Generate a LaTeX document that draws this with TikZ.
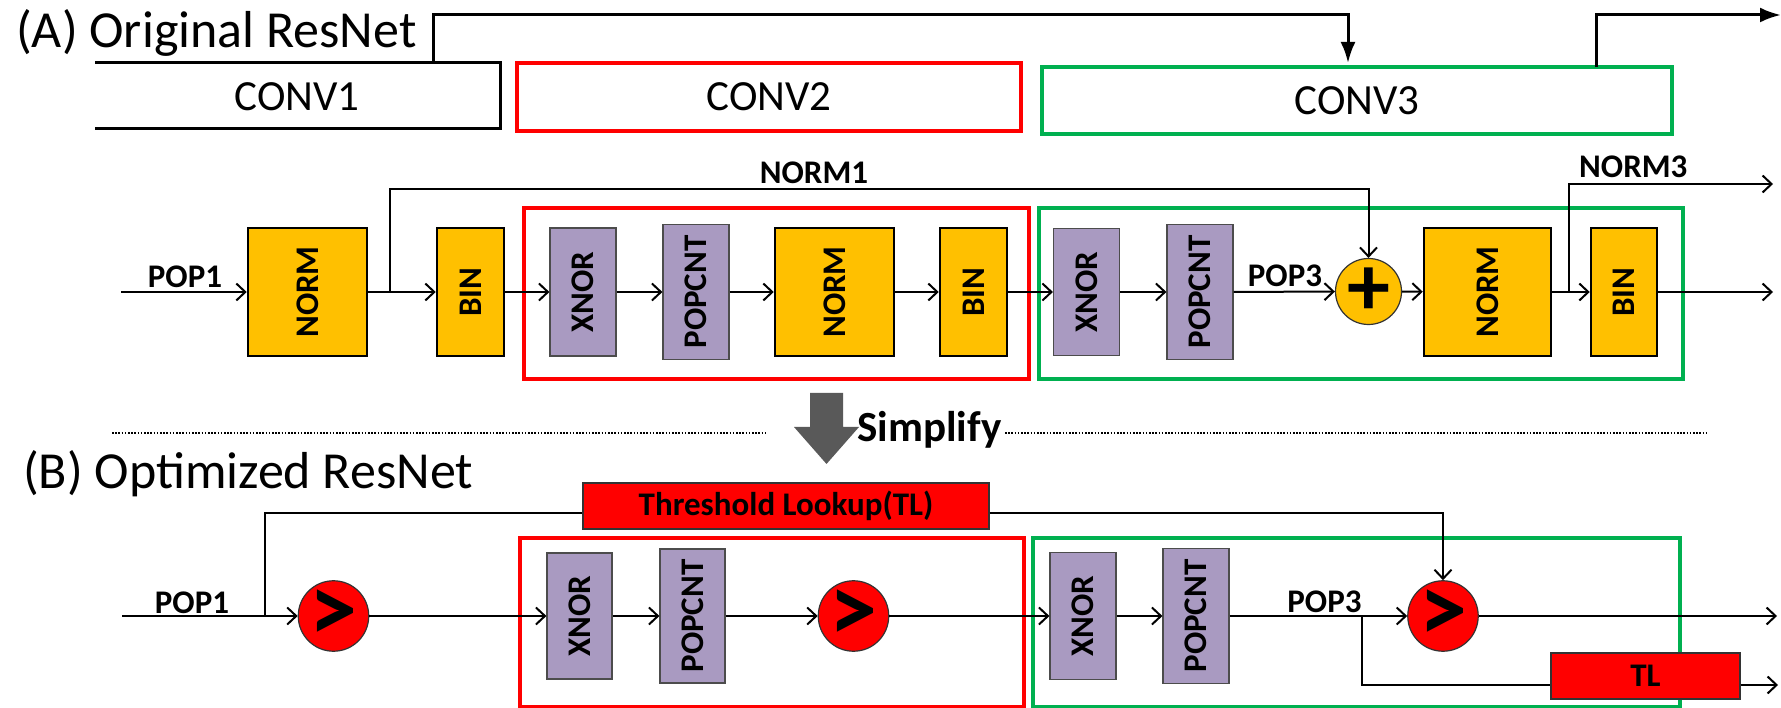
\documentclass[tikz,border=0pt]{standalone}
\usepackage{fontspec}
\setmainfont{Carlito}
\usetikzlibrary{arrows.meta,calc}
\definecolor{yel}{HTML}{FFC000}
\definecolor{pur}{HTML}{A99AC1}
\definecolor{myred}{HTML}{FF0000}
\definecolor{mygreen}{HTML}{00B050}
\definecolor{darrow}{HTML}{595959}
\newcommand\lblfont{\fontsize{33}{33}\selectfont\bfseries}
\newcommand\vt[1]{\rotatebox{90}{\lblfont #1}}
\begin{document}
\begin{tikzpicture}[x=1pt,y=-1pt,
  wire/.style={line width=2pt},
  conn/.style={line width=2pt,-{Straight Barb[length=9pt,width=17pt,line width=2pt]}},
  bigwire/.style={line width=3pt,-{Latex[length=21pt,width=15pt]}},
  ybox/.style={draw=black,line width=2.5pt,fill=yel,inner sep=0pt},
  pbox/.style={draw=black!70,line width=1.2pt,fill=pur,inner sep=0pt},
  sumc/.style={circle,draw=black!80,line width=1.2pt,fill=yel,minimum size=66pt,inner sep=0pt},
  cmpc/.style={circle,draw=black!80,line width=1.2pt,fill=myred,minimum size=66pt,inner sep=0pt},
  tlbox/.style={draw=black!80,line width=1.2pt,fill=myred,inner sep=0pt,font=\lblfont},
  convbox/.style={line width=3.5pt,inner sep=0pt,font=\fontsize{43}{43}\selectfont},
  lbl/.style={inner sep=0pt,font=\lblfont},
  title/.style={inner sep=0pt,font=\fontsize{52}{52}\selectfont},
  redframe/.style={draw=myred,line width=3.5pt},
  greenframe/.style={draw=mygreen,line width=3.5pt}
]
\useasboundingbox (0,0) rectangle (1781,708);

% ---------- (A) top row ----------
\node[title,anchor=base west] (ta) at (16,48) {(A) Original ResNet};
\draw[line width=3pt] (95,63) -- (500,63) -- (500,129) -- (95,129);
\node[inner sep=0pt,font=\fontsize{43}{43}\selectfont] (conv1) at (297,97) {CONV1};
\node[convbox,draw=myred,minimum width=504pt,minimum height=68pt] (conv2) at (769,97) {CONV2};
\node[convbox,draw=mygreen,minimum width=630pt,minimum height=67pt] (conv3) at (1357,100.5) {CONV3};
\coordinate (c1top) at (433,63);
\coordinate (c3in) at (1348,63);
\coordinate (c3out) at (1596,67);
\coordinate (topout) at (1781,15);
\draw[bigwire] (c1top) -- (433,15) -| (c3in);
\draw[bigwire] (c3out) |- (topout);

% ---------- (A) detail row ----------
\draw[redframe] (524,208) rectangle (1029,379);
\draw[greenframe] (1039,208) rectangle (1683,379);

\node[ybox,minimum width=119pt,minimum height=128pt] (n1) at (307.5,292) {\vt{NORM}};
\node[ybox,minimum width=67pt,minimum height=128pt] (b1) at (470.5,292) {\vt{BIN}};
\node[pbox,minimum width=66pt,minimum height=128pt] (x1) at (583,292) {\vt{XNOR}};
\node[pbox,minimum width=66pt,minimum height=135pt] (p1) at (696,292) {\vt{POPCNT}};
\node[ybox,minimum width=119pt,minimum height=128pt] (n2) at (834.5,292) {\vt{NORM}};
\node[ybox,minimum width=67pt,minimum height=128pt] (b2) at (973.5,292) {\vt{BIN}};
\node[pbox,minimum width=66pt,minimum height=127pt] (x2) at (1086.5,292) {\vt{XNOR}};
\node[pbox,minimum width=66pt,minimum height=135pt] (p2) at (1200,292) {\vt{POPCNT}};
\node[sumc] (pl) at (1368.5,291.5) {\fontsize{86}{86}\selectfont\bfseries +};
\node[ybox,minimum width=127pt,minimum height=128pt] (n3) at (1487.5,292) {\vt{NORM}};
\node[ybox,minimum width=66pt,minimum height=128pt] (b3) at (1624,292) {\vt{BIN}};

\coordinate (inA) at (121,292);
\coordinate (brA1) at (390,292);
\coordinate (brA3) at (1569,292);
\coordinate (outA) at (1773,292);
\coordinate (outA3) at (1773,184);

\draw[conn] (inA) -- (n1);
\draw[wire] (n1) -- (brA1);
\draw[conn] (brA1) -- (b1);
\draw[conn] (b1) -- (x1);
\draw[conn] (x1) -- (p1);
\draw[conn] (p1) -- (n2);
\draw[conn] (n2) -- (b2);
\draw[conn] (b2) -- (x2);
\draw[conn] (x2) -- (p2);
\draw[conn] (p2) -- (pl);
\draw[conn] (pl) -- (n3);
\draw[wire] (n3) -- (brA3);
\draw[conn] (brA3) -- (b3);
\draw[conn] (b3) -- (outA);
\draw[conn] (brA1) -- (390,189) -| (pl.north);
\draw[conn] (brA3) -- (1569,184) -- (outA3);

\node[lbl,anchor=base] at (185,288) {POP1};
\node[lbl,anchor=base] at (814,184) {NORM1};
\node[lbl,anchor=base] at (1285,287) {POP3};
\node[lbl,anchor=base west] at (1579,178) {NORM3};

% ---------- separator ----------
\draw[line width=1.6pt,dash pattern=on 1.6pt off 1.6pt] (112,433) -- (767,433);
\draw[line width=1.6pt,dash pattern=on 1.6pt off 1.6pt] (1005,433) -- (1707,433);
\fill[darrow] (810,393) -- (843,393) -- (843,427) -- (859,427) -- (826.5,464) -- (794,427) -- (810,427) -- cycle;
\node[inner sep=0pt,anchor=base west,font=\fontsize{43}{43}\selectfont\bfseries] (simp) at (857,442) {Simplify};

% ---------- (B) ----------
\node[title,anchor=base west] (tb) at (23,488) {(B) Optimized ResNet};
\draw[redframe] (520,538) rectangle (1024,707);
\draw[greenframe] (1033,538) rectangle (1680,707);

\node[tlbox,minimum width=406pt,minimum height=46pt] (tl) at (786,506) {Threshold Lookup(TL)};
\node[tlbox,minimum width=189pt,minimum height=46pt] (tls) at (1645.5,676) {TL};

\node[cmpc] (c1) at (333.5,616) {\fontsize{96}{96}\selectfont\bfseries >};
\node[pbox,minimum width=65pt,minimum height=126pt] (x3) at (579.5,616) {\vt{XNOR}};
\node[pbox,minimum width=65pt,minimum height=134pt] (p3) at (692.5,616) {\vt{POPCNT}};
\node[cmpc] (c2) at (853.5,616) {\fontsize{96}{96}\selectfont\bfseries >};
\node[pbox,minimum width=66pt,minimum height=127pt] (x4) at (1083,616) {\vt{XNOR}};
\node[pbox,minimum width=66pt,minimum height=135pt] (p4) at (1196,616) {\vt{POPCNT}};
\node[cmpc] (c3) at (1443,616) {\fontsize{96}{96}\selectfont\bfseries >};

\coordinate (inB) at (122,616);
\coordinate (brB1) at (265,616);
\coordinate (brB3) at (1362,616);
\coordinate (tly) at (0,513);
\coordinate (tly2) at (0,685);
\coordinate (outB) at (1777,616);
\coordinate (outB2) at (1778,685);

\draw[wire] (inB) -- (brB1);
\draw[conn] (brB1) -- (c1);
\draw[wire] (brB1) |- (tl.west |- tly);
\draw[conn] (tl.east |- tly) -| (c3.north);
\draw[conn] (c1) -- (x3);
\draw[conn] (x3) -- (p3);
\draw[conn] (p3) -- (c2);
\draw[conn] (c2) -- (x4);
\draw[conn] (x4) -- (p4);
\draw[wire] (p4) -- (brB3);
\draw[conn] (brB3) -- (c3);
\draw[conn] (c3) -- (outB);
\draw[wire] (brB3) |- (tls.west |- tly2);
\draw[conn] (tls.east |- tly2) -- (outB2);

\node[lbl,anchor=base] at (192,613) {POP1};
\node[lbl,anchor=base] at (1324.5,612) {POP3};
\end{tikzpicture}
\end{document}
